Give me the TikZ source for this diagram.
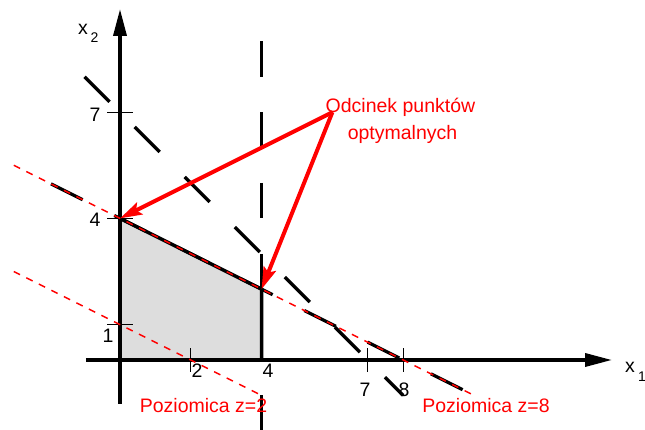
\documentclass[tikz,border=0pt]{standalone}
\usepackage{fontspec}
\setmainfont{Liberation Sans}
\usetikzlibrary{arrows.meta}
\definecolor{fillgray}{RGB}{221,221,221}
\definecolor{pured}{RGB}{255,0,0}
\tikzset{
  axisline/.style={line width=3.5pt,-{Triangle[length=27pt,width=13pt]}},
  bound/.style={line width=3.5pt},
  constr/.style={line width=3.3pt,dash pattern=on 35.4pt off 35.4pt},
  level/.style={pured,line width=1.5pt,dash pattern=on 7pt off 7pt},
  pointer/.style={pured,line width=4pt,-{Stealth[length=22pt,width=13pt,inset=4pt]}},
  tickmark/.style={line width=1pt},
  lbl/.style={inner sep=0pt,anchor=base,font=\fontsize{19.5}{23}\selectfont},
  rlbl/.style={lbl,text=pured},
  sub/.style={inner sep=0pt,anchor=base west,font=\fontsize{14}{17}\selectfont}
}
\begin{document}
\begin{tikzpicture}[x=35.4pt,y=35.4pt]
\useasboundingbox (-120pt,-70pt) rectangle (525pt,360pt);
% key points
\coordinate (O) at (0,0);
\coordinate (A) at (4,0);
\coordinate (B) at (4,2);
\coordinate (C) at (0,4);
\coordinate (src) at (6,7);
% feasible region
\fill[fillgray] (O) -- (A) -- (B) -- (C) -- cycle;
% constraints
\coordinate (v1) at (4,9); \coordinate (v2) at (4,-2);
\draw[constr] (v1) -- (v2);
\coordinate (d1) at (-1,8); \coordinate (d2) at (8,-1);
\draw[constr] (d1) -- (d2);
\coordinate (e1) at (-1.95,4.975); \coordinate (e2) at (10,-1);
\draw[constr] (e1) -- (e2);
% boundary
\draw[bound] (C) -- (B) -- (A);
% axes
\coordinate (xs) at (-34pt,0); \coordinate (xe) at (492pt,0);
\coordinate (ys) at (0,-44pt); \coordinate (ye) at (0,351pt);
\draw[axisline] (xs) -- (xe);
\draw[axisline] (ys) -- (ye);
% ticks
\foreach \v in {1,4,7} \draw[tickmark] ([xshift=-13pt]0,\v) -- ([xshift=13pt]0,\v);
\foreach \v in {2,7,8} \draw[tickmark] ([yshift=-12pt]\v,0) -- ([yshift=12pt]\v,0);
% level lines
\coordinate (z8a) at (-3,5.5); \coordinate (z8b) at (10,-1);
\draw[level] (z8a) -- (z8b);
\coordinate (z2a) at (-3,2.5); \coordinate (z2b) at (4,-1);
\draw[level] (z2a) -- (z2b);
% pointers
\draw[pointer] (src) -- (C);
\draw[pointer] (src) -- (B);
% labels
\node[lbl,anchor=base west] (x2l) at (-42pt,325pt) {x};
\node[sub] (x2s) at (-29.5pt,317pt) {2};
\node[lbl,anchor=base west] (x1l) at (505pt,-13pt) {x};
\node[sub] (x1s) at (518pt,-22pt) {1};
\node[lbl] (t7y) at (-25pt,238pt) {7};
\node[lbl] (t4y) at (-25pt,133pt) {4};
\node[lbl] (t1y) at (-12pt,17pt) {1};
\node[lbl] (t2x) at (77pt,-18pt) {2};
\node[lbl] (t4x) at (148pt,-18pt) {4};
\node[lbl] (t7x) at (245pt,-37pt) {7};
\node[lbl] (t8x) at (284pt,-37pt) {8};
\node[rlbl] (odc1) at (280.5pt,247pt) {Odcinek punktów};
\node[rlbl] (odc2) at (282.5pt,220pt) {optymalnych};
\node[rlbl] (pz2) at (83.5pt,-53pt) {Poziomica z=2};
\node[rlbl] (pz8) at (366pt,-53pt) {Poziomica z=8};
\end{tikzpicture}
\end{document}
